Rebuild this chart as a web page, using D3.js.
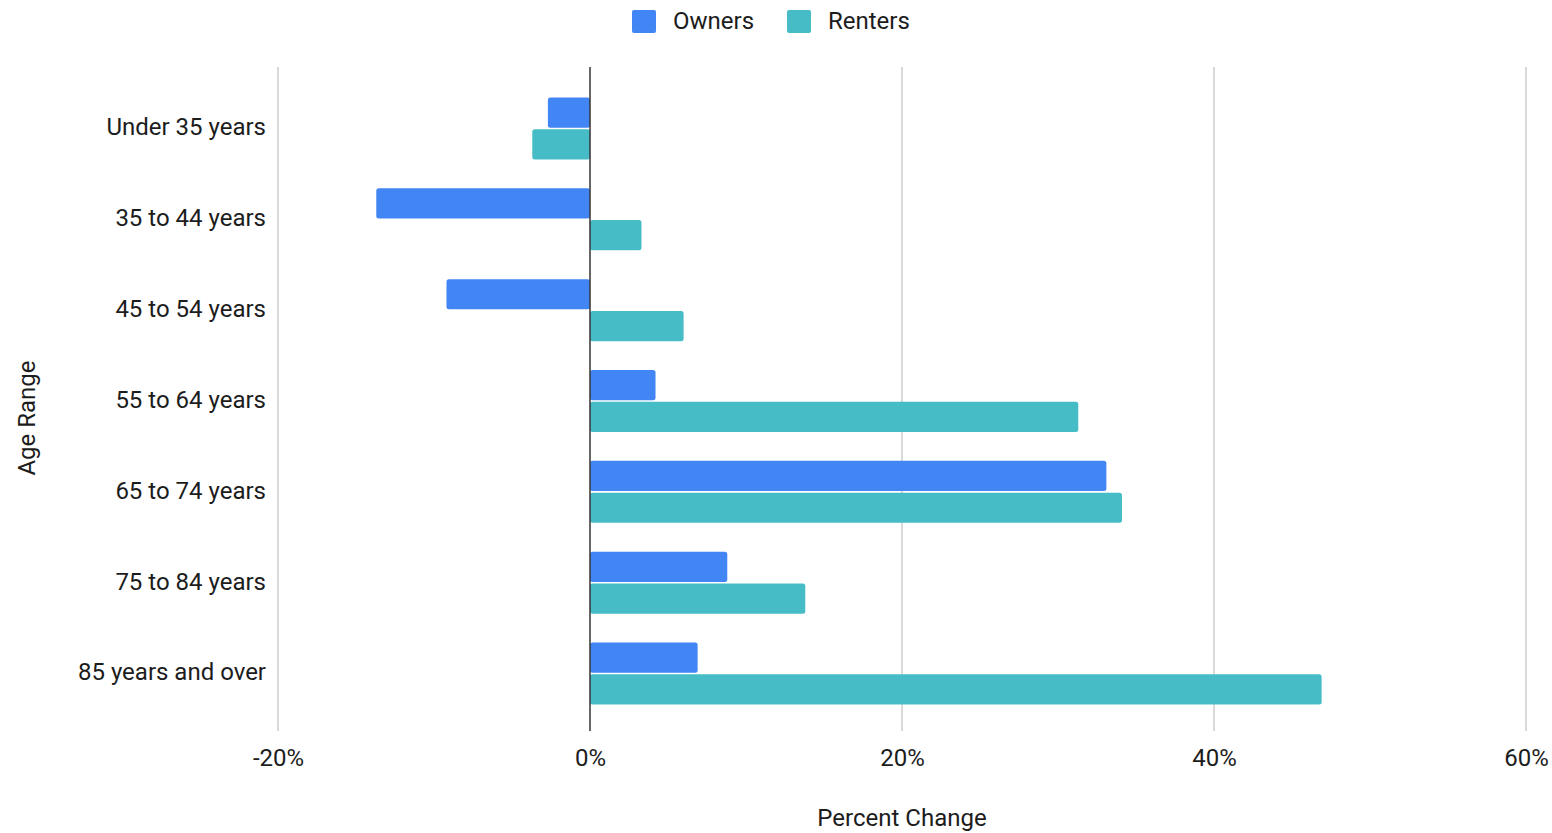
<!DOCTYPE html>
<html><head><meta charset="utf-8">
<script src="https://cdn.jsdelivr.net/npm/d3@7"></script>
<style>body{margin:0;background:#fff;} text{font-family:Roboto,"Noto Sans",sans-serif;}</style>
</head><body>
<svg id="c" width="1552" height="833"></svg>
<script>
const categories = ["Under 35 years","35 to 44 years","45 to 54 years","55 to 64 years","65 to 74 years","75 to 84 years","85 years and over"];
const seriesNames = ["Owners","Renters"];
const owners = [-2.7,-13.7,-9.2,4.2,33.1,8.8,6.9];
const renters = [-3.7,3.3,6.0,31.3,34.1,13.8,46.9];
const xTicks = [-20,0,20,40,60];
const colors = ["#4285f4","#46bdc6"];
const FS = 24;
const TXT = "#1c1c1c";

const svg = d3.select("#c");
const x = d3.scaleLinear().domain([-20,60]).range([278,1526]);
const y = d3.scaleBand().domain(categories).range([82,718]);
const sub = d3.scaleBand().domain(seriesNames).range([-30,32]).paddingInner(0.05);

// gridlines
svg.append("g").selectAll("line").data(xTicks.filter(d=>d!==0)).join("line")
  .attr("x1",d=>x(d)).attr("x2",d=>x(d)).attr("y1",67).attr("y2",731)
  .attr("stroke","#cccccc").attr("stroke-width",1.5);

// bars
const data = [];
categories.forEach((c,i)=>{
  data.push({c, s:"Owners", v:owners[i]});
  data.push({c, s:"Renters", v:renters[i]});
});
svg.append("g").selectAll("rect").data(data).join("rect")
  .attr("x",d=>Math.min(x(0),x(d.v)))
  .attr("width",d=>Math.abs(x(d.v)-x(0)))
  .attr("y",d=>y(d.c)+y.bandwidth()/2+sub(d.s))
  .attr("height",sub.bandwidth())
  .attr("rx",2.5)
  .attr("fill",d=>colors[seriesNames.indexOf(d.s)]);

// zero line
svg.append("line").attr("x1",x(0)).attr("x2",x(0)).attr("y1",67).attr("y2",731)
  .attr("stroke","#333").attr("stroke-width",1.5);

// x axis labels
const xAxis = d3.axisBottom(x).tickValues(xTicks).tickFormat(d=>d+"%").tickSize(0).tickPadding(0);
const gx = svg.append("g").attr("transform","translate(0,766)").call(xAxis);
gx.select(".domain").remove();
gx.selectAll("text").attr("font-size",FS).attr("fill",TXT).attr("dy",0)
  .style("font-family","Roboto");

// y axis labels
const yAxis = d3.axisLeft(y).tickSize(0).tickPadding(0);
const gy = svg.append("g").attr("transform","translate(266,0)").call(yAxis);
gy.select(".domain").remove();
gy.selectAll("text").attr("font-size",FS).attr("fill",TXT).attr("dy","0.33em")
  .style("font-family","Roboto");

// axis titles
svg.append("text").attr("x",902).attr("y",826).attr("text-anchor","middle")
  .attr("font-size",FS).attr("fill",TXT).text("Percent Change");
svg.append("text").attr("transform","translate(35,418) rotate(-90)").attr("text-anchor","middle")
  .attr("font-size",FS).attr("fill",TXT).text("Age Range");

// legend
const legX = [632,787];
seriesNames.forEach((s,i)=>{
  svg.append("rect").attr("x",legX[i]).attr("y",10).attr("width",24).attr("height",23)
    .attr("rx",2).attr("fill",colors[i]);
  svg.append("text").attr("x",legX[i]+41).attr("y",29).attr("font-size",FS).attr("fill",TXT).text(s);
});
</script>
</body></html>
